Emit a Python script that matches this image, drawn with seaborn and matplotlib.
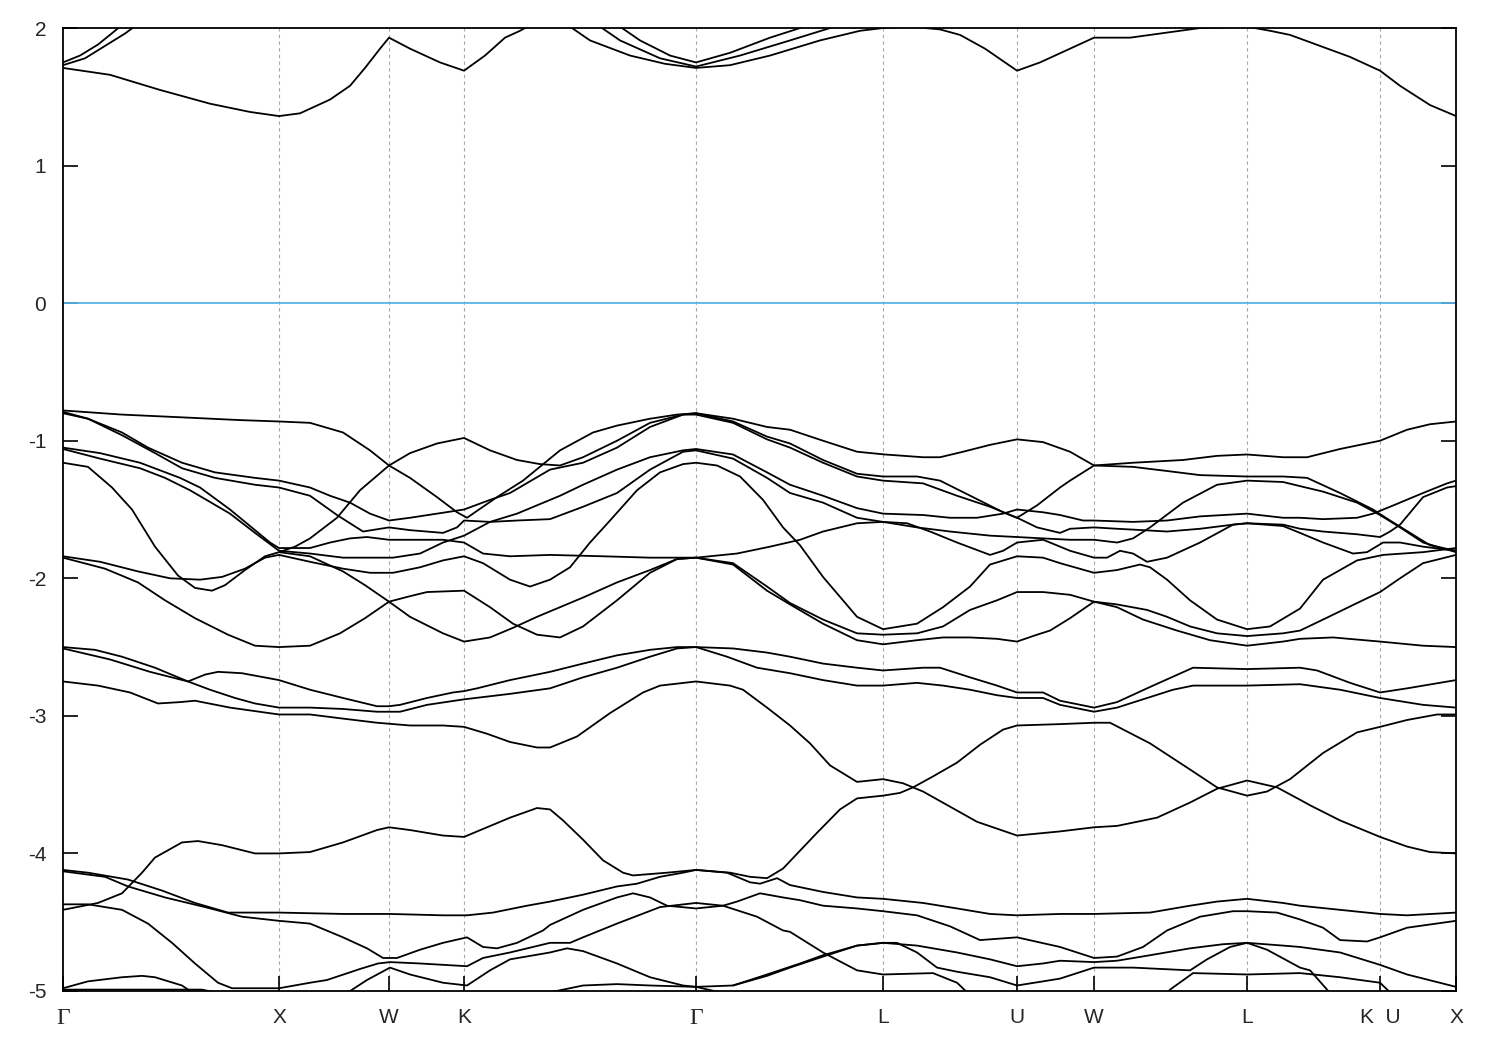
import matplotlib
matplotlib.use("Agg")
import matplotlib.pyplot as plt
import pandas as pd
import seaborn as sns

# ---------------- data ----------------
kpoint_labels = ["Γ", "X", "W", "K", "Γ", "L", "U", "W", "L", "K  U", "X"]
kpoint_pos = [0.0, 2.16, 3.26, 4.01, 6.33, 8.20, 9.54, 10.31, 11.84, 13.17, 13.93]
energy_ticks = [2, 1, 0, -1, -2, -3, -4, -5]
fermi_level = 0.0

conduction_bands = [
    [(0, 1.71), (0.47, 1.66), (0.97, 1.55), (1.47, 1.45), (1.87, 1.39), (2.16, 1.36), (2.37, 1.38), (2.67, 1.48),
     (2.87, 1.58), (3.02, 1.71), (3.17, 1.85), (3.26, 1.93), (3.47, 1.85), (3.77, 1.75), (4.01, 1.69), (4.22, 1.80),
     (4.42, 1.93), (4.57, 1.98), (4.72, 2.04)],
    [(0, 1.73), (0.22, 1.78), (0.42, 1.87), (0.62, 1.96), (0.77, 2.04)],
    [(0, 1.75), (0.17, 1.80), (0.35, 1.88), (0.52, 1.98), (0.65, 2.06)],
    [(4.97, 2.06), (5.27, 1.91), (5.67, 1.80), (6.02, 1.74), (6.33, 1.71), (6.67, 1.73), (7.07, 1.80), (7.57, 1.91),
     (7.97, 1.98), (8.20, 2.00), (8.47, 2.01), (8.77, 1.99), (8.97, 1.95), (9.22, 1.85), (9.42, 1.75), (9.54, 1.69),
     (9.77, 1.75), (10.07, 1.85), (10.31, 1.93), (10.67, 1.93), (11.07, 1.97), (11.37, 2.00), (11.84, 2.01),
     (12.07, 1.98), (12.27, 1.95), (12.57, 1.87), (12.87, 1.79), (13.17, 1.69), (13.37, 1.58), (13.67, 1.44),
     (13.93, 1.36)],
    [(5.27, 2.06), (5.57, 1.91), (5.97, 1.78), (6.33, 1.72), (6.77, 1.80), (7.27, 1.91), (7.67, 2.00), (7.87, 2.04)],
    [(5.47, 2.06), (5.77, 1.91), (6.07, 1.80), (6.33, 1.75), (6.67, 1.82), (7.07, 1.93), (7.37, 2.00), (7.52, 2.04)],
]

valence_upper = [
    [(0, -0.78), (0.59, -0.81), (1.19, -0.83), (1.77, -0.85), (2.16, -0.86), (2.47, -0.87), (2.80, -0.94),
     (3.07, -1.07), (3.26, -1.18), (3.47, -1.27), (3.74, -1.41), (3.94, -1.52), (4.04, -1.56), (4.34, -1.41),
     (4.60, -1.29), (4.97, -1.07), (5.30, -0.94), (5.54, -0.89), (5.87, -0.84), (6.14, -0.81), (6.33, -0.80),
     (6.70, -0.84), (7.04, -0.90), (7.27, -0.92), (7.60, -1.00), (7.94, -1.08), (8.22, -1.10), (8.60, -1.12),
     (8.77, -1.12), (9.00, -1.08), (9.27, -1.03), (9.54, -0.99), (9.80, -1.01), (10.07, -1.08), (10.31, -1.18),
     (10.70, -1.19), (11.04, -1.22), (11.37, -1.25), (11.84, -1.26), (12.20, -1.26), (12.44, -1.27),
     (12.77, -1.38), (13.10, -1.50), (13.27, -1.58), (13.47, -1.67), (13.67, -1.76), (13.93, -1.80)],
    [(0, -0.79), (0.25, -0.84), (0.59, -0.94), (0.85, -1.05), (1.19, -1.16), (1.52, -1.23), (1.92, -1.27),
     (2.16, -1.29), (2.47, -1.34), (2.67, -1.40), (2.87, -1.45), (3.07, -1.53), (3.26, -1.58), (3.47, -1.56),
     (3.74, -1.53), (4.01, -1.50), (4.27, -1.43), (4.47, -1.38), (4.87, -1.21), (5.20, -1.16), (5.54, -1.05),
     (5.87, -0.90), (6.20, -0.81), (6.33, -0.81), (6.70, -0.87), (7.04, -0.99), (7.27, -1.05), (7.60, -1.16),
     (7.94, -1.26), (8.20, -1.29), (8.60, -1.31), (8.94, -1.40), (9.27, -1.48), (9.44, -1.53), (9.57, -1.57),
     (9.74, -1.63), (9.97, -1.67), (10.07, -1.64), (10.31, -1.63), (10.54, -1.64), (10.80, -1.65),
     (11.04, -1.66), (11.37, -1.64), (11.70, -1.61), (11.84, -1.60), (12.20, -1.61), (12.37, -1.64),
     (12.60, -1.66), (12.94, -1.68), (13.17, -1.70), (13.27, -1.66), (13.37, -1.61), (13.60, -1.41),
     (13.84, -1.34), (13.93, -1.33)],
    [(0, -1.16), (0.25, -1.19), (0.49, -1.34), (0.69, -1.50), (0.92, -1.77), (1.15, -1.98), (1.32, -2.07),
     (1.49, -2.09), (1.62, -2.05), (1.82, -1.94), (2.02, -1.84), (2.16, -1.81), (2.32, -1.77), (2.47, -1.71),
     (2.74, -1.56), (2.97, -1.36), (3.26, -1.18), (3.47, -1.09), (3.74, -1.02), (4.01, -0.98), (4.27, -1.07),
     (4.54, -1.14), (4.77, -1.17), (4.97, -1.18), (5.20, -1.12), (5.54, -1.00), (5.87, -0.87), (6.20, -0.81),
     (6.33, -0.80), (6.70, -0.86), (7.04, -0.97), (7.27, -1.02), (7.60, -1.14), (7.94, -1.24), (8.20, -1.26),
     (8.54, -1.26), (8.77, -1.29), (9.10, -1.41), (9.40, -1.52), (9.54, -1.56), (9.74, -1.47), (9.97, -1.34),
     (10.07, -1.29), (10.31, -1.18), (10.70, -1.16), (11.20, -1.14), (11.54, -1.11), (11.84, -1.10),
     (12.20, -1.12), (12.44, -1.12), (12.77, -1.06), (13.17, -1.00), (13.44, -0.92), (13.67, -0.88),
     (13.93, -0.86)],
    [(0, -0.80), (0.25, -0.84), (0.59, -0.96), (0.92, -1.09), (1.19, -1.20), (1.52, -1.27), (1.92, -1.32),
     (2.16, -1.34), (2.47, -1.40), (2.74, -1.54), (3.00, -1.66), (3.26, -1.63), (3.47, -1.65), (3.80, -1.67),
     (3.94, -1.63), (4.01, -1.58), (4.27, -1.59), (4.54, -1.58), (4.87, -1.57), (5.20, -1.48), (5.54, -1.38),
     (5.87, -1.21), (6.20, -1.08), (6.33, -1.07), (6.70, -1.13), (7.04, -1.27), (7.27, -1.38), (7.60, -1.45),
     (7.94, -1.56), (8.20, -1.59), (8.54, -1.63), (8.87, -1.66), (9.27, -1.69), (9.54, -1.70), (9.80, -1.71),
     (10.07, -1.72), (10.31, -1.72), (10.54, -1.74), (10.70, -1.71), (10.87, -1.63), (11.20, -1.45),
     (11.54, -1.32), (11.84, -1.29), (12.20, -1.30), (12.37, -1.33), (12.60, -1.37), (12.94, -1.45),
     (13.17, -1.54), (13.37, -1.63), (13.60, -1.74), (13.93, -1.81)],
    [(0, -1.05), (0.37, -1.09), (0.77, -1.16), (1.17, -1.27), (1.37, -1.34), (1.67, -1.50), (1.92, -1.65),
     (2.07, -1.74), (2.16, -1.78), (2.47, -1.78), (2.67, -1.74), (2.87, -1.71), (3.04, -1.70), (3.26, -1.72),
     (3.57, -1.72), (3.80, -1.72), (4.01, -1.74), (4.20, -1.82), (4.47, -1.84), (4.87, -1.83), (5.40, -1.84),
     (5.87, -1.85), (6.33, -1.85), (6.74, -1.82), (7.07, -1.77), (7.37, -1.72), (7.60, -1.66), (7.94, -1.60),
     (8.20, -1.59), (8.44, -1.60), (8.67, -1.66), (8.94, -1.74), (9.27, -1.83), (9.40, -1.80), (9.54, -1.74),
     (9.80, -1.72), (9.87, -1.74), (10.07, -1.80), (10.31, -1.85), (10.44, -1.85), (10.57, -1.80),
     (10.70, -1.82), (10.84, -1.88), (11.04, -1.85), (11.37, -1.74), (11.70, -1.61), (11.84, -1.60),
     (12.20, -1.62), (12.37, -1.67), (12.60, -1.74), (12.90, -1.82), (13.04, -1.81), (13.20, -1.74),
     (13.37, -1.74), (13.60, -1.77), (13.93, -1.80)],
    [(0, -1.06), (0.37, -1.13), (0.77, -1.20), (1.02, -1.27), (1.27, -1.36), (1.67, -1.53), (1.92, -1.67),
     (2.16, -1.80), (2.47, -1.82), (2.80, -1.85), (3.07, -1.85), (3.30, -1.85), (3.57, -1.82), (3.80, -1.74),
     (4.01, -1.69), (4.27, -1.59), (4.54, -1.53), (4.97, -1.40), (5.20, -1.32), (5.54, -1.21), (5.87, -1.12),
     (6.20, -1.07), (6.33, -1.06), (6.70, -1.10), (7.04, -1.23), (7.27, -1.32), (7.60, -1.40), (7.94, -1.49),
     (8.20, -1.53), (8.60, -1.54), (8.87, -1.56), (9.14, -1.56), (9.40, -1.53), (9.54, -1.50), (9.80, -1.52),
     (9.97, -1.54), (10.20, -1.58), (10.31, -1.58), (10.70, -1.59), (11.04, -1.58), (11.37, -1.55),
     (11.84, -1.53), (12.20, -1.56), (12.37, -1.56), (12.60, -1.57), (12.94, -1.56), (13.10, -1.53),
     (13.27, -1.48), (13.60, -1.38), (13.84, -1.31), (13.93, -1.29)],
    [(0, -1.84), (0.37, -1.88), (0.75, -1.95), (1.07, -2.00), (1.37, -2.01), (1.59, -1.99), (1.82, -1.93),
     (2.02, -1.85), (2.16, -1.83), (2.47, -1.88), (2.80, -1.93), (3.07, -1.96), (3.30, -1.96), (3.57, -1.92),
     (3.80, -1.87), (4.01, -1.84), (4.20, -1.89), (4.47, -2.01), (4.67, -2.06), (4.87, -2.01), (5.07, -1.92),
     (5.27, -1.74), (5.47, -1.58), (5.74, -1.36), (5.97, -1.23), (6.20, -1.17), (6.33, -1.16), (6.54, -1.18),
     (6.77, -1.26), (7.00, -1.43), (7.20, -1.63), (7.37, -1.76), (7.60, -1.99), (7.94, -2.28), (8.20, -2.37),
     (8.54, -2.33), (8.80, -2.21), (9.07, -2.06), (9.27, -1.90), (9.54, -1.84), (9.80, -1.85), (9.97, -1.89),
     (10.31, -1.96), (10.54, -1.94), (10.77, -1.90), (10.87, -1.92), (11.04, -2.01), (11.27, -2.16),
     (11.54, -2.30), (11.84, -2.37), (12.07, -2.35), (12.37, -2.22), (12.60, -2.01), (12.94, -1.87),
     (13.20, -1.83), (13.60, -1.81), (13.93, -1.78)],
    [(0, -1.85), (0.42, -1.93), (0.75, -2.03), (1.02, -2.16), (1.32, -2.29), (1.65, -2.41), (1.92, -2.49),
     (2.16, -2.50), (2.47, -2.49), (2.77, -2.40), (3.02, -2.29), (3.26, -2.17), (3.47, -2.13), (3.64, -2.10),
     (4.01, -2.09), (4.27, -2.21), (4.50, -2.33), (4.74, -2.41), (4.97, -2.43), (5.20, -2.35), (5.54, -2.16),
     (5.87, -1.96), (6.14, -1.86), (6.33, -1.85), (6.70, -1.90), (7.04, -2.09), (7.27, -2.19), (7.60, -2.33),
     (7.94, -2.45), (8.20, -2.48), (8.54, -2.45), (8.80, -2.43), (9.07, -2.43), (9.34, -2.44), (9.54, -2.46),
     (9.74, -2.41), (9.87, -2.38), (10.07, -2.29), (10.31, -2.17), (10.54, -2.21), (10.80, -2.30),
     (11.14, -2.38), (11.47, -2.45), (11.84, -2.49), (12.20, -2.46), (12.37, -2.44), (12.70, -2.43),
     (13.17, -2.46), (13.60, -2.49), (13.93, -2.50)],
    [(2.16, -1.81), (2.47, -1.84), (2.80, -1.95), (3.02, -2.05), (3.26, -2.17), (3.47, -2.28), (3.80, -2.40),
     (4.01, -2.46), (4.27, -2.43), (4.50, -2.36), (4.74, -2.28), (4.97, -2.21), (5.20, -2.14), (5.54, -2.03),
     (5.87, -1.94), (6.14, -1.86), (6.33, -1.85), (6.70, -1.89), (7.04, -2.06), (7.27, -2.18), (7.60, -2.30),
     (7.94, -2.40), (8.20, -2.41), (8.54, -2.40), (8.80, -2.35), (9.07, -2.23), (9.34, -2.16), (9.54, -2.10),
     (9.80, -2.10), (10.07, -2.12), (10.31, -2.17), (10.54, -2.19), (10.84, -2.23), (11.04, -2.28),
     (11.27, -2.35), (11.54, -2.40), (11.84, -2.42), (12.20, -2.40), (12.37, -2.38), (12.60, -2.30),
     (12.94, -2.18), (13.17, -2.10), (13.37, -2.00), (13.60, -1.89), (13.93, -1.83)],
]

valence_mid = [
    [(0, -2.51), (0.47, -2.59), (0.87, -2.68), (1.25, -2.75), (1.42, -2.70), (1.55, -2.68), (1.79, -2.69),
     (2.16, -2.74), (2.47, -2.81), (2.80, -2.87), (3.14, -2.93), (3.26, -2.93), (3.37, -2.92), (3.64, -2.87),
     (3.90, -2.83), (4.01, -2.82), (4.14, -2.80), (4.47, -2.74), (4.87, -2.68), (5.20, -2.62), (5.54, -2.56),
     (5.87, -2.52), (6.14, -2.50), (6.33, -2.50), (6.70, -2.51), (7.04, -2.54), (7.27, -2.57), (7.60, -2.62),
     (7.94, -2.65), (8.20, -2.67), (8.60, -2.65), (8.77, -2.65), (9.07, -2.72), (9.34, -2.78), (9.54, -2.83),
     (9.80, -2.83), (9.97, -2.89), (10.31, -2.94), (10.54, -2.90), (10.87, -2.79), (11.30, -2.65),
     (11.84, -2.66), (12.37, -2.65), (12.54, -2.67), (12.87, -2.76), (13.17, -2.83), (13.44, -2.80),
     (13.93, -2.74)],
    [(0, -2.50), (0.32, -2.52), (0.59, -2.57), (0.92, -2.65), (1.25, -2.75), (1.47, -2.81), (1.72, -2.87),
     (1.92, -2.91), (2.16, -2.94), (2.47, -2.94), (2.80, -2.95), (3.14, -2.97), (3.37, -2.97), (3.64, -2.92),
     (4.01, -2.88), (4.47, -2.84), (4.87, -2.80), (5.20, -2.72), (5.54, -2.65), (5.87, -2.57), (6.14, -2.51),
     (6.33, -2.50), (6.64, -2.57), (6.94, -2.65), (7.27, -2.69), (7.60, -2.74), (7.94, -2.78), (8.20, -2.78),
     (8.54, -2.76), (8.80, -2.78), (9.07, -2.81), (9.34, -2.85), (9.54, -2.87), (9.80, -2.87), (9.97, -2.92),
     (10.31, -2.97), (10.54, -2.94), (11.10, -2.81), (11.30, -2.78), (11.84, -2.78), (12.37, -2.77),
     (12.77, -2.81), (13.17, -2.87), (13.60, -2.92), (13.93, -2.94)],
    [(0, -2.75), (0.35, -2.78), (0.67, -2.83), (0.95, -2.91), (1.17, -2.90), (1.32, -2.89), (1.67, -2.94),
     (2.16, -2.99), (2.47, -2.99), (2.80, -3.02), (3.14, -3.05), (3.47, -3.07), (3.80, -3.07), (4.01, -3.08),
     (4.24, -3.13), (4.47, -3.19), (4.74, -3.23), (4.87, -3.23), (5.14, -3.15), (5.47, -2.98), (5.80, -2.83),
     (5.97, -2.78), (6.33, -2.75), (6.67, -2.78), (6.80, -2.81), (7.04, -2.94), (7.27, -3.07), (7.47, -3.20),
     (7.67, -3.36), (7.94, -3.48), (8.20, -3.46), (8.40, -3.49), (8.60, -3.55), (8.87, -3.66), (9.14, -3.77),
     (9.54, -3.87), (9.97, -3.84), (10.31, -3.81), (10.54, -3.80), (10.94, -3.74), (11.27, -3.63),
     (11.54, -3.53), (11.84, -3.47), (12.14, -3.52), (12.37, -3.61), (12.47, -3.65), (12.77, -3.76),
     (13.17, -3.88), (13.44, -3.95), (13.67, -3.99), (13.93, -4.00)],
    [(0, -4.41), (0.35, -4.36), (0.59, -4.29), (0.79, -4.14), (0.92, -4.03), (1.19, -3.92), (1.35, -3.91),
     (1.59, -3.94), (1.92, -4.00), (2.16, -4.00), (2.47, -3.99), (2.80, -3.92), (3.14, -3.83), (3.26, -3.81),
     (3.47, -3.83), (3.80, -3.87), (4.01, -3.88), (4.24, -3.81), (4.47, -3.74), (4.74, -3.67), (4.87, -3.68),
     (5.00, -3.76), (5.20, -3.90), (5.40, -4.05), (5.60, -4.14), (5.70, -4.16), (6.04, -4.14), (6.33, -4.12),
     (6.67, -4.14), (6.87, -4.17), (7.04, -4.18), (7.20, -4.11), (7.37, -3.98), (7.54, -3.85), (7.77, -3.68),
     (7.94, -3.60), (8.20, -3.58), (8.37, -3.56), (8.50, -3.52), (8.70, -3.44), (8.94, -3.34), (9.17, -3.21),
     (9.40, -3.10), (9.54, -3.07), (9.97, -3.06), (10.31, -3.05), (10.47, -3.05), (10.87, -3.20),
     (11.27, -3.39), (11.54, -3.52), (11.84, -3.58), (12.04, -3.55), (12.27, -3.46), (12.60, -3.27),
     (12.94, -3.12), (13.17, -3.08), (13.44, -3.03), (13.74, -2.99), (13.93, -2.99)],
]

valence_lower = [
    [(0, -4.12), (0.25, -4.14), (0.65, -4.19), (0.99, -4.27), (1.32, -4.36), (1.65, -4.43), (2.16, -4.43),
     (2.80, -4.44), (3.27, -4.44), (3.80, -4.45), (4.04, -4.45), (4.30, -4.43), (4.64, -4.38), (4.87, -4.35),
     (5.20, -4.30), (5.54, -4.24), (5.74, -4.22), (5.97, -4.17), (6.20, -4.14), (6.33, -4.12), (6.64, -4.14),
     (6.87, -4.21), (6.97, -4.22), (7.14, -4.18), (7.27, -4.23), (7.60, -4.28), (7.94, -4.32), (8.20, -4.33),
     (8.60, -4.36), (8.94, -4.40), (9.27, -4.44), (9.54, -4.45), (9.97, -4.44), (10.31, -4.44), (10.87, -4.43),
     (11.27, -4.38), (11.54, -4.35), (11.84, -4.33), (12.20, -4.36), (12.37, -4.38), (12.77, -4.41),
     (13.17, -4.44), (13.44, -4.45), (13.93, -4.43)],
    [(0, -4.13), (0.42, -4.17), (0.65, -4.24), (1.02, -4.32), (1.42, -4.39), (1.79, -4.46), (2.16, -4.49),
     (2.47, -4.51), (2.80, -4.61), (3.04, -4.69), (3.20, -4.76), (3.34, -4.76), (3.57, -4.70), (3.80, -4.65),
     (4.04, -4.61), (4.20, -4.68), (4.34, -4.69), (4.54, -4.65), (4.80, -4.56), (4.87, -4.52), (5.20, -4.41),
     (5.54, -4.32), (5.70, -4.29), (5.87, -4.32), (6.04, -4.38), (6.33, -4.40), (6.60, -4.38), (6.74, -4.35),
     (6.97, -4.29), (7.20, -4.32), (7.37, -4.34), (7.60, -4.38), (7.94, -4.40), (8.20, -4.42), (8.54, -4.45),
     (8.87, -4.53), (9.17, -4.63), (9.54, -4.61), (9.97, -4.68), (10.31, -4.76), (10.54, -4.75),
     (10.80, -4.68), (11.04, -4.56), (11.37, -4.46), (11.70, -4.42), (11.84, -4.42), (12.14, -4.43),
     (12.37, -4.48), (12.60, -4.54), (12.77, -4.63), (13.04, -4.64), (13.17, -4.61), (13.44, -4.54),
     (13.93, -4.49)],
    [(0, -4.37), (0.25, -4.37), (0.59, -4.41), (0.85, -4.51), (1.09, -4.65), (1.32, -4.80), (1.55, -4.94),
     (1.69, -4.98), (2.16, -4.98), (2.47, -4.94), (2.64, -4.92), (2.97, -4.84), (3.15, -4.80), (3.27, -4.79),
     (3.57, -4.80), (4.04, -4.82), (4.20, -4.76), (4.47, -4.72), (4.87, -4.65), (5.07, -4.65), (5.20, -4.61),
     (5.54, -4.51), (5.97, -4.39), (6.33, -4.36), (6.60, -4.38), (6.94, -4.46), (7.20, -4.56), (7.27, -4.57),
     (7.60, -4.72), (7.94, -4.85), (8.20, -4.88), (8.70, -4.87), (8.94, -4.94), (9.07, -5.03), (9.17, -5.10)],
    [(2.67, -5.07), (2.85, -5.01), (3.04, -4.92), (3.27, -4.83), (3.47, -4.88), (3.80, -4.94), (4.04, -4.96),
     (4.27, -4.85), (4.47, -4.77), (4.87, -4.72), (5.04, -4.69), (5.20, -4.71), (5.54, -4.80), (5.87, -4.90),
     (6.20, -4.96), (6.33, -4.97), (6.57, -5.01), (6.82, -5.07)],
    [(4.57, -5.07), (4.87, -5.01), (5.20, -4.96), (5.54, -4.95), (5.87, -4.96), (6.33, -4.97), (6.70, -4.96),
     (7.04, -4.88), (7.37, -4.80), (7.60, -4.74), (7.94, -4.67), (8.20, -4.65), (8.34, -4.65), (8.54, -4.72),
     (8.74, -4.83), (8.94, -4.86), (9.27, -4.90), (9.54, -4.96), (9.80, -4.93), (9.97, -4.91), (10.31, -4.83),
     (10.70, -4.83), (11.27, -4.85), (11.44, -4.77), (11.67, -4.68), (11.84, -4.65), (12.04, -4.70),
     (12.37, -4.83), (12.47, -4.85), (12.64, -4.99), (12.72, -5.07)],
    [(6.70, -4.96), (7.04, -4.89), (7.27, -4.83), (7.60, -4.75), (7.94, -4.67), (8.20, -4.65), (8.54, -4.67),
     (8.94, -4.72), (9.27, -4.77), (9.54, -4.82), (9.80, -4.80), (9.97, -4.78), (10.31, -4.79), (10.54, -4.78),
     (10.87, -4.74), (11.27, -4.69), (11.60, -4.66), (11.84, -4.65), (12.20, -4.67), (12.37, -4.68),
     (12.77, -4.72), (13.17, -4.81), (13.44, -4.88), (13.93, -4.97)],
    [(10.97, -5.07), (11.07, -4.99), (11.30, -4.87), (11.84, -4.88), (12.37, -4.87), (12.77, -4.90),
     (13.17, -4.94), (13.27, -5.01), (13.34, -5.07)],
    [(0, -4.98), (0.25, -4.93), (0.59, -4.90), (0.79, -4.89), (0.92, -4.90), (1.19, -4.96), (1.29, -5.01),
     (1.37, -5.07)],
    [(0, -4.99), (0.92, -4.99), (1.39, -4.99), (1.65, -5.03), (1.77, -5.07)],
]

# ---------------- long-form table ----------------
rows = []
band_id = 0
for group in (conduction_bands, valence_upper, valence_mid, valence_lower):
    for curve in group:
        for k, e in curve:
            rows.append((k, e, band_id))
        band_id += 1
bands = pd.DataFrame(rows, columns=["k", "E", "band"])

# ---------------- plot ----------------
sns.set_theme(style="white")
plt.rcParams["font.family"] = ["Liberation Sans", "DejaVu Sans"]

fig = plt.figure(figsize=(15, 10.5), dpi=100)
ax = fig.add_axes([0.042, 0.0562, 0.9287, 0.9171])

for pos in kpoint_pos[1:-1]:
    ax.axvline(pos, color="#a6a6a6", lw=0.8, ls=(0, (3, 3)), zorder=0)
ax.axhline(fermi_level, color="#56b4e9", lw=1.3, zorder=1)

sns.lineplot(data=bands, x="k", y="E", units="band", estimator=None, sort=False,
             color="black", lw=1.3, ax=ax, legend=False, zorder=2)

ax.set_xlim(kpoint_pos[0], kpoint_pos[-1])
ax.set_ylim(-5, 2)
ax.set_xlabel("")
ax.set_ylabel("")
ax.set_xticks(kpoint_pos)
ax.set_xticklabels(kpoint_labels)
ax.set_yticks(energy_ticks)
ax.set_yticklabels([str(t) for t in energy_ticks])

ax.tick_params(axis="y", which="both", direction="in", length=11, width=1.2,
               left=True, right=True, labelsize=15, pad=12, color="black")
ax.tick_params(axis="x", which="both", direction="in", length=11, width=1.2,
               bottom=True, top=False, labelsize=15, pad=12, color="black")
for lab in ax.get_xticklabels():
    if lab.get_text() == "Γ":
        lab.set_fontfamily(["Liberation Serif", "DejaVu Serif"])
        lab.set_fontsize(17)

for sp in ax.spines.values():
    sp.set_visible(True)
    sp.set_color("black")
    sp.set_linewidth(1.3)

fig.savefig("out.png", dpi=100, facecolor="white")
